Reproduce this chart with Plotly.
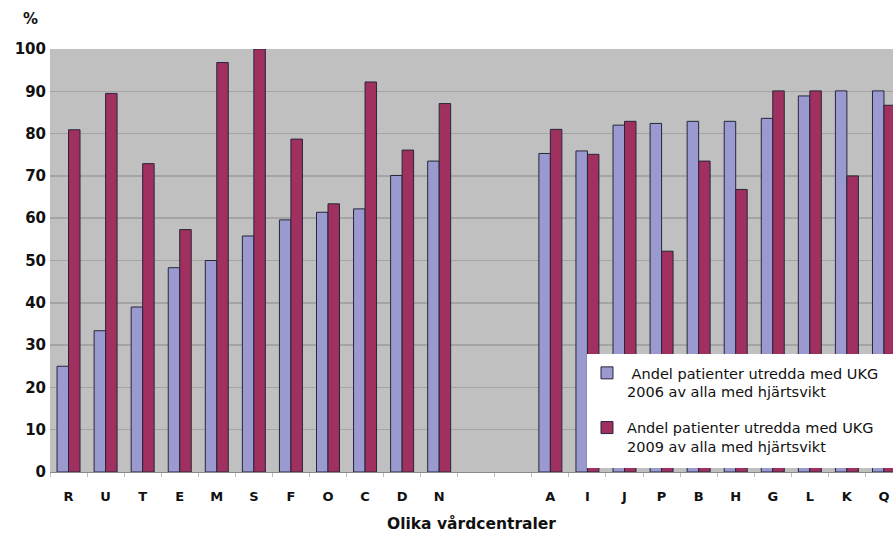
import plotly.graph_objects as go

categories = ["R", "U", "T", "E", "M", "S", "F", "O", "C", "D", "N", " ", "  ",
              "A", "I", "J", "P", "B", "H", "G", "L", "K", "Q"]
values_2006 = [25, 33.4, 39, 48.3, 50, 55.8, 59.6, 61.4, 62.2, 70.1, 73.5, None, None,
               75.3, 75.9, 82, 82.4, 82.9, 82.9, 83.6, 88.9, 90.1, 90.1]
values_2009 = [80.9, 89.5, 72.9, 57.3, 96.8, 100, 78.7, 63.4, 92.2, 76.1, 87.1, None, None,
               81, 75.1, 82.9, 52.2, 73.5, 66.8, 90.1, 90.1, 70, 86.7]
name_2006 = " Andel patienter utredda med UKG<br>2006 av alla med hjärtsvikt"
name_2009 = "Andel patienter utredda med UKG<br>2009 av alla med hjärtsvikt"
y_ticks = list(range(0, 101, 10))

FONT = "DejaVu Sans"

fig = go.Figure()
fig.add_trace(go.Bar(x=categories, y=values_2006, name=name_2006, legendgroup="a",
                     marker=dict(color="#9a9ad0", line=dict(color="#26263a", width=1))))
fig.add_trace(go.Bar(x=categories, y=values_2009, name=name_2009, legendgroup="b",
                     marker=dict(color="#a0305f", line=dict(color="#26263a", width=1))))

fig.update_layout(
    width=893, height=533,
    margin=dict(l=50, r=0, t=49, b=61, autoexpand=False),
    paper_bgcolor="white",
    plot_bgcolor="#c0c0c0",
    barmode="group",
    bargap=0.38,
    bargroupgap=0,
    font=dict(family=FONT, color="#111111"),
    showlegend=True,
    legend=dict(
        x=0.637, xanchor="left", y=0.272, yanchor="top",
        bgcolor="rgba(255,255,255,0)", borderwidth=0,
        font=dict(family=FONT, size=14.5, color="#111111"),
        traceorder="grouped", tracegroupgap=14, valign="top",
    ),
    shapes=[dict(type="rect", xref="paper", yref="paper",
                 x0=0.637, x1=1.02, y0=0.0095, y1=0.279,
                 fillcolor="white", line=dict(width=0), layer="above")],
    xaxis=dict(
        categoryorder="array", categoryarray=categories,
        range=[-0.5, 22.244],
        automargin=False,
        showgrid=False,
        showline=True, linecolor="#8a8a8a", linewidth=1,
        ticks="outside", tickson="boundaries", ticklen=4, tickcolor="#bbbbbb",
        ticklabelstandoff=12,
        tickfont=dict(family=FONT, size=13, weight="bold", color="#111111"),
        title=dict(text="Olika vårdcentraler", standoff=17,
                   font=dict(family=FONT, size=15.5, weight="bold", color="#111111")),
        fixedrange=True,
    ),
    yaxis=dict(
        range=[0, 100], tickvals=y_ticks,
        automargin=False,
        showgrid=True, gridcolor="#a4a4a4", gridwidth=1.5,
        zeroline=False, showline=False,
        ticks="", ticklabelstandoff=3,
        tickfont=dict(family=FONT, size=15, weight="bold", color="#111111"),
        fixedrange=True,
    ),
    annotations=[dict(text="%", xref="paper", yref="paper", x=-0.0237, y=1.071,
                      xanchor="center", yanchor="middle", showarrow=False,
                      font=dict(family=FONT, size=15, weight="bold", color="#111111"))],
)

fig.write_html(
    "out.html",
    config={"displayModeBar": False, "staticPlot": True},
    post_script="document.documentElement.style.overflow='hidden';"
                "document.body.style.margin='0';document.body.style.overflow='hidden';",
)
